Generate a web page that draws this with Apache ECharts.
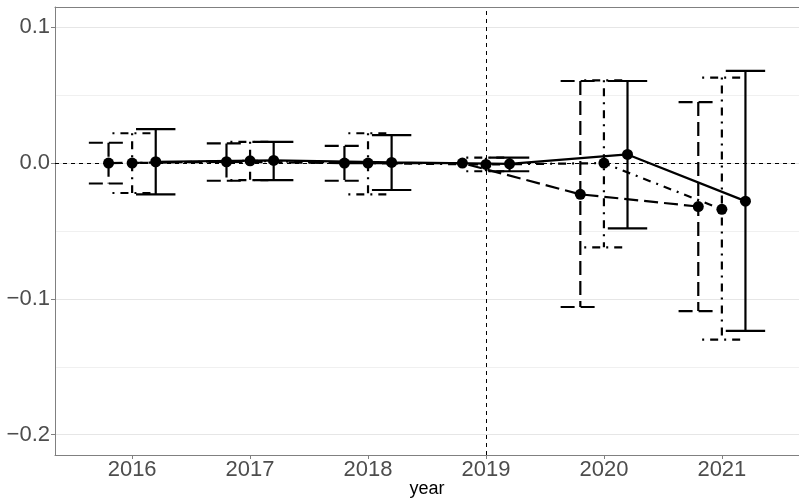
<!DOCTYPE html>
<html>
<head>
<meta charset="utf-8">
<script src="https://cdn.jsdelivr.net/npm/echarts@6/dist/echarts.min.js"></script>
<style>
  html, body { margin: 0; padding: 0; background: #fff; }
  #main { width: 799px; height: 498px; }
</style>
</head>
<body>
<div id="main"></div>
<script>
// years on the x axis
var years = [2016, 2017, 2018, 2019, 2020, 2021];

// series A (long dash)
var estA = [0.000, 0.001, 0.000, 0.000, -0.023, -0.032];
var loA  = [-0.015, -0.013, -0.013, 0.000, -0.106, -0.109];
var hiA  = [0.015, 0.0145, 0.0127, 0.000, 0.0605, 0.045];

// series B (dot dash)
var estB = [0.000, 0.0017, 0.000, -0.001, 0.000, -0.034];
var loB  = [-0.022, -0.0125, -0.023, -0.006, -0.062, -0.130];
var hiB  = [0.022, 0.0157, 0.022, 0.004, 0.061, 0.063];

// series C (solid)
var estC = [0.001, 0.002, 0.0005, -0.0005, 0.0064, -0.028];
var loC  = [-0.023, -0.0125, -0.0198, -0.006, -0.048, -0.1235];
var hiC  = [0.025, 0.0157, 0.0206, 0.004, 0.0605, 0.068];

var yTicks = [-0.2, -0.1, 0, 0.1];
var yMinor = [-0.15, -0.05, 0.05];

var dodge = 0.2;
var capHalf = 0.167;
var lw = 2.2;

function errData(est, lo, hi, off) {
	var out = [];
	for (var i = 0; i < years.length; i++) {
		out.push([years[i] + off, lo[i], hi[i], est[i]]);
	}
	return out;
}
function ptData(est, off) {
	return years.map(function(y, i){ return [y + off, est[i]]; });
}

function errSeries(data, dash) {
	return {
		type: 'custom',
		z: 2,
		silent: true,
		data: data,
		renderItem: function(params, api) {
			var x = api.value(0), lo = api.value(1), hi = api.value(2);
			if (lo === hi) return;
			var top = api.coord([x, hi]);
			var bot = api.coord([x, lo]);
			var tl = api.coord([x - capHalf, hi]), tr = api.coord([x + capHalf, hi]);
			var bl = api.coord([x - capHalf, lo]), br = api.coord([x + capHalf, lo]);
			var st = { stroke: '#000', lineWidth: lw, lineDash: dash, fill: null };
			return {
				type: 'group',
				children: [
					{ type: 'line', shape: { x1: tl[0], y1: tl[1], x2: tr[0], y2: tr[1] }, style: st },
					{ type: 'line', shape: { x1: top[0], y1: top[1], x2: bot[0], y2: bot[1] }, style: st },
					{ type: 'line', shape: { x1: bl[0], y1: bl[1], x2: br[0], y2: br[1] }, style: st }
				]
			};
		}
	};
}

function lineSeries(data, dash) {
	return {
		type: 'line',
		z: 3,
		silent: true,
		data: data,
		showSymbol: false,
		lineStyle: { color: '#000', width: lw, type: dash },
		animation: false
	};
}

function pointSeries(data) {
	return {
		type: 'scatter',
		z: 4,
		silent: true,
		data: data,
		symbol: 'circle',
		symbolSize: 11,
		itemStyle: { color: '#000', opacity: 1 }
	};
}

var gridLines = [];
yMinor.forEach(function(v){
	gridLines.push({ yAxis: v, lineStyle: { color: '#f0f0f0', width: 1, type: 'solid' } });
});
yTicks.forEach(function(v){
	gridLines.push({ yAxis: v, lineStyle: { color: '#e6e6e6', width: 1, type: 'solid' } });
});

var myChart = echarts.init(document.getElementById('main'), null, { renderer: 'canvas' });
var option = {
	animation: false,
	grid: { left: 55, right: 0, top: 7, bottom: 43, containLabel: false, outerBoundsMode: 'none' },
	xAxis: [{
		type: 'value',
		min: 2015.346,
		max: 2021.654,
		splitLine: { show: false },
		axisLine: { onZero: false, lineStyle: { color: '#808080', width: 1 } },
		axisTick: { show: true, customValues: years, length: 4, lineStyle: { color: '#808080' } },
		axisLabel: {
			customValues: years,
			formatter: function(v){ return String(Math.round(v)); },
			color: '#4d4d4d',
			fontFamily: 'Liberation Sans',
			fontSize: 22,
			margin: 4
		},
		name: 'year',
		nameLocation: 'middle',
		nameGap: 25,
		nameMoveOverlap: false,
		nameTextStyle: { color: '#000', fontFamily: 'Liberation Sans', fontSize: 18 }
	}, {
		type: 'value',
		position: 'top',
		min: 2015.346,
		max: 2021.654,
		splitLine: { show: false },
		axisLine: { show: true, onZero: false, lineStyle: { color: '#808080', width: 1 } },
		axisTick: { show: false },
		axisLabel: { show: false }
	}],
	yAxis: {
		type: 'value',
		min: -0.215,
		max: 0.115,
		splitLine: { show: false },
		axisLine: { show: true, onZero: false, lineStyle: { color: '#808080', width: 1 } },
		axisTick: { show: true, customValues: yTicks, length: 4, lineStyle: { color: '#808080' } },
		axisLabel: {
			customValues: yTicks,
			formatter: function(v){ return (v < 0 ? '\u2212' : '') + Math.abs(v).toFixed(1); },
			color: '#4d4d4d',
			fontFamily: 'Liberation Sans',
			fontSize: 22,
			margin: 5
		}
	},
	series: [
		{
			type: 'line',
			z: 0,
			silent: true,
			data: [],
			markLine: {
				z: 0,
				silent: true,
				symbol: ['none', 'none'],
				label: { show: false },
				animation: false,
				data: gridLines
			}
		},
		{
			type: 'line',
			z: 1,
			silent: true,
			data: [],
			markLine: {
				z: 1,
				silent: true,
				symbol: ['none', 'none'],
				label: { show: false },
				animation: false,
				lineStyle: { color: '#000', width: 1, type: [4, 4] },
				data: [{ yAxis: 0 }, { xAxis: 2019 }]
			}
		},
		errSeries(errData(estA, loA, hiA, -dodge), [14, 6]),
		errSeries(errData(estB, loB, hiB, 0), [2, 6, 8, 6]),
		errSeries(errData(estC, loC, hiC, dodge), null),
		lineSeries(ptData(estA, -dodge), [14, 6]),
		lineSeries(ptData(estB, 0), [2, 6, 8, 6]),
		lineSeries(ptData(estC, dodge), 'solid'),
		pointSeries(ptData(estA, -dodge)),
		pointSeries(ptData(estB, 0)),
		pointSeries(ptData(estC, dodge))
	]
};
myChart.setOption(option);
</script>
</body>
</html>
